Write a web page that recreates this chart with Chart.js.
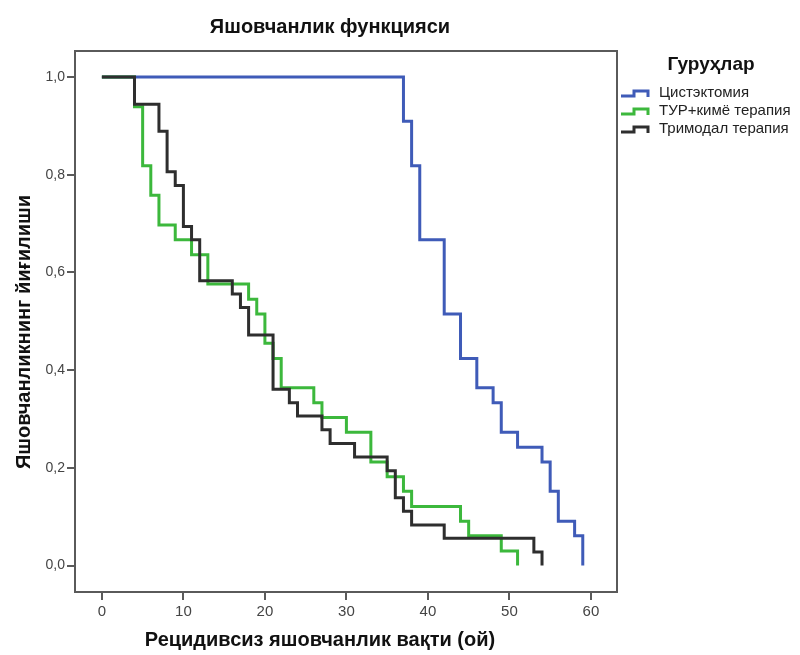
<!DOCTYPE html>
<html>
<head>
<meta charset="utf-8">
<title>Яшовчанлик функцияси</title>
<script src="https://cdn.jsdelivr.net/npm/chart.js@4.4.1/dist/chart.umd.min.js"></script>
<style>
  html, body { margin: 0; padding: 0; background: #fff; }
  canvas { display: block; }
</style>
</head>
<body>
<canvas id="kmChart" width="800" height="655"></canvas>
<script>
// Kaplan-Meier curves, values
const timeTicks = [0, 10, 20, 30, 40, 50, 60];
const survivalTicks = [0, 0.2, 0.4, 0.6, 0.8, 1.0];

const groupNames = ['Цистэктомия', 'ТУР+кимё терапия', 'Тримодал терапия'];

const cystTimes = [0, 37, 38, 39, 42, 44, 46, 48, 49, 51, 54, 55, 56, 58, 59];
const cystSurv = [1, 0.909, 0.818, 0.667, 0.515, 0.424, 0.364, 0.333, 0.273, 0.242, 0.212, 0.152, 0.091, 0.061, 0];

const turTimes = [0, 4, 5, 6, 7, 9, 11, 13, 18, 19, 20, 21, 22, 26, 27, 30, 33, 35, 37, 38, 44, 45, 49, 51];
const turSurv = [1, 0.939, 0.818, 0.758, 0.697, 0.667, 0.636, 0.576, 0.545, 0.515, 0.455, 0.424, 0.364, 0.333, 0.303, 0.273, 0.212, 0.182, 0.152, 0.121, 0.091, 0.061, 0.030, 0];

const trimTimes = [0, 4, 7, 8, 9, 10, 11, 12, 16, 17, 18, 21, 23, 24, 27, 28, 31, 35, 36, 37, 38, 42, 53, 54];
const trimSurv = [1, 0.944, 0.889, 0.806, 0.778, 0.694, 0.667, 0.583, 0.556, 0.528, 0.472, 0.361, 0.333, 0.306, 0.278, 0.25, 0.222, 0.194, 0.139, 0.111, 0.083, 0.056, 0.028, 0];

const colors = ['#3f5bb8', '#3cb83c', '#2e2e2e'];
const axisColor = '#5a5a5a';
const labelFont = "'Liberation Sans', Arial, sans-serif";

function toPoints(times, values) {
  return times.map((t, i) => ({ x: t, y: values[i] }));
}

function formatComma(value, digits) {
  return value.toFixed(digits).replace('.', ',');
}

// Titles, legend and the top/right sides of the frame
const decorPlugin = {
  id: 'decor',
  afterDraw(chart) {
    const ctx = chart.ctx;
    const area = chart.chartArea;
    ctx.save();

    // frame top and right
    ctx.strokeStyle = axisColor;
    ctx.lineWidth = 2;
    ctx.beginPath();
    ctx.moveTo(area.left, area.top);
    ctx.lineTo(area.right, area.top);
    ctx.lineTo(area.right, area.bottom);
    ctx.stroke();

    ctx.fillStyle = '#111';
    ctx.textAlign = 'center';
    ctx.textBaseline = 'middle';

    // chart title
    ctx.font = `bold 20px ${labelFont}`;
    ctx.fillText('Яшовчанлик функцияси', 330, 27);

    // x axis title
    ctx.font = `bold 20px ${labelFont}`;
    ctx.fillText('Рецидивсиз яшовчанлик вақти (ой)', 320, 640);

    // y axis title
    ctx.save();
    ctx.translate(24, 332);
    ctx.rotate(-Math.PI / 2);
    ctx.fillText('Яшовчанликнинг йиғилиши', 0, 0);
    ctx.restore();

    // legend
    ctx.font = `bold 19px ${labelFont}`;
    ctx.fillText('Гуруҳлар', 711, 65);

    ctx.textAlign = 'left';
    ctx.font = `15px ${labelFont}`;
    const rows = [93, 111, 129];
    groupNames.forEach((name, i) => {
      const y = rows[i];
      ctx.strokeStyle = colors[i];
      ctx.lineWidth = 3;
      ctx.beginPath();
      ctx.moveTo(621, y + 3);
      ctx.lineTo(634, y + 3);
      ctx.lineTo(634, y - 2);
      ctx.lineTo(648, y - 2);
      ctx.lineTo(648, y + 4);
      ctx.stroke();
      ctx.fillStyle = '#222';
      ctx.fillText(name, 659, y);
    });

    ctx.restore();
  }
};

function createKmChart() {
  const canvas = document.getElementById('kmChart');
  const ctx = canvas.getContext('2d');

  const series = [
    { times: cystTimes, values: cystSurv, order: 2 },
    { times: turTimes, values: turSurv, order: 1 },
    { times: trimTimes, values: trimSurv, order: 0 }
  ];

  const config = {
    type: 'line',
    data: {
      datasets: series.map((s, i) => ({
        label: groupNames[i],
        data: toPoints(s.times, s.values),
        borderColor: colors[i],
        borderWidth: 3,
        stepped: true,
        fill: false,
        pointRadius: 0,
        order: s.order,
        borderJoinStyle: 'miter',
        borderCapStyle: 'butt'
      }))
    },
    options: {
      responsive: false,
      animation: false,
      devicePixelRatio: 1,
      layout: {
        padding: { top: 51, right: 183, left: 0, bottom: 0 }
      },
      plugins: {
        legend: { display: false },
        title: { display: false },
        tooltip: { enabled: false }
      },
      scales: {
        x: {
          type: 'linear',
          min: -3.3,
          max: 63.2,
          afterBuildTicks: scale => {
            scale.ticks = timeTicks.map(v => ({ value: v }));
          },
          afterFit: scale => {
            scale.height = 63;
          },
          grid: {
            drawOnChartArea: false,
            drawTicks: true,
            tickLength: 8,
            color: axisColor,
            lineWidth: 2
          },
          border: { display: true, color: axisColor, width: 2 },
          ticks: {
            color: '#444',
            padding: 3,
            maxRotation: 0,
            font: { family: labelFont, size: 15 },
            callback: value => String(value)
          }
        },
        y: {
          type: 'linear',
          min: -0.054,
          max: 1.053,
          afterBuildTicks: scale => {
            scale.ticks = survivalTicks.map(v => ({ value: v }));
          },
          afterFit: scale => {
            scale.width = 75;
          },
          grid: {
            drawOnChartArea: false,
            drawTicks: true,
            tickLength: 8,
            color: axisColor,
            lineWidth: 2
          },
          border: { display: true, color: axisColor, width: 2 },
          ticks: {
            color: '#444',
            padding: 2,
            font: { family: labelFont, size: 14 },
            callback: value => formatComma(value, 1)
          }
        }
      }
    },
    plugins: [decorPlugin]
  };

  return new Chart(ctx, config);
}

createKmChart();
</script>
</body>
</html>
